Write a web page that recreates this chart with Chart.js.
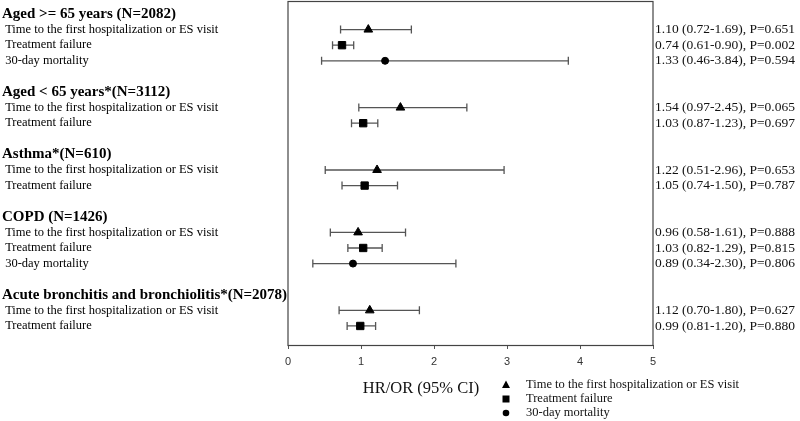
<!DOCTYPE html>
<html lang="en">
<head>
    <meta charset="UTF-8">
    <title>HR/OR forest plot</title>
    <script src="https://cdn.jsdelivr.net/npm/chart.js"></script>
    <style>
        html, body { margin: 0; padding: 0; background: #fff; }
        canvas { display: block; }
    </style>
</head>
<body>
    <canvas id="forestChart" width="800" height="421"></canvas>

    <script>
        // Rows of the plot (top to bottom), blank strings are spacer rows
        const rowLabels = [
            'Aged >= 65 years (N=2082)',
            'Time to the first hospitalization or ES visit',
            'Treatment failure',
            '30-day mortality',
            '',
            'Aged < 65 years*(N=3112)',
            'Time to the first hospitalization or ES visit',
            'Treatment failure',
            '',
            'Asthma*(N=610)',
            'Time to the first hospitalization or ES visit',
            'Treatment failure',
            '',
            'COPD (N=1426)',
            'Time to the first hospitalization or ES visit',
            'Treatment failure',
            '30-day mortality',
            '',
            'Acute bronchitis and bronchiolitis*(N=2078)',
            'Time to the first hospitalization or ES visit',
            'Treatment failure'
        ];
        const headerRows = [0, 5, 9, 13, 18];

        // Time to the first hospitalization or ES visit
        const timeRows = [1, 6, 10, 14, 19];
        const timeEst = [1.10, 1.54, 1.22, 0.96, 1.12];
        const timeLo = [0.72, 0.97, 0.51, 0.58, 0.70];
        const timeHi = [1.69, 2.45, 2.96, 1.61, 1.80];
        const timeP = ['0.651', '0.065', '0.653', '0.888', '0.627'];

        // Treatment failure
        const failRows = [2, 7, 11, 15, 20];
        const failEst = [0.74, 1.03, 1.05, 1.03, 0.99];
        const failLo = [0.61, 0.87, 0.74, 0.82, 0.81];
        const failHi = [0.90, 1.23, 1.50, 1.29, 1.20];
        const failP = ['0.002', '0.697', '0.787', '0.815', '0.880'];

        // 30-day mortality
        const mortRows = [3, 16];
        const mortEst = [1.33, 0.89];
        const mortLo = [0.46, 0.34];
        const mortHi = [3.84, 2.30];
        const mortP = ['0.594', '0.806'];

        const xTicks = [0, 1, 2, 3, 4, 5];
        const seriesNames = ['Time to the first hospitalization or ES visit', 'Treatment failure', '30-day mortality'];
        const axisTitle = 'HR/OR (95% CI)';

        const serif = "'Liberation Serif', 'Times New Roman', serif";

        function buildPoints(rows, est, lo, hi) {
            return rows.map((r, i) => ({ x: est[i], y: r, lo: lo[i], hi: hi[i] }));
        }

        // right hand text column
        const rightLabels = rowLabels.map(() => '');
        function fillRight(rows, est, lo, hi, p) {
            rows.forEach((r, i) => {
                rightLabels[r] = est[i].toFixed(2) + ' (' + lo[i].toFixed(2) + '-' + hi[i].toFixed(2) + '), P=' + p[i];
            });
        }
        fillRight(timeRows, timeEst, timeLo, timeHi, timeP);
        fillRight(failRows, failEst, failLo, failHi, failP);
        fillRight(mortRows, mortEst, mortLo, mortHi, mortP);

        const rowTicks = axis => { axis.ticks = rowLabels.map((_, i) => ({ value: i })); };
        // row labels are not at the axis ends, so drop the edge padding chart.js reserves for them
        const rowAxisFit = w => scale => {
            scale.width = w;
            scale.paddingTop = 0;
            scale.paddingBottom = 0;
        };

        // horizontal CI whiskers with end caps
        const errorBars = {
            id: 'errorBars',
            beforeDatasetsDraw(chart) {
                const ctx = chart.ctx;
                const xs = chart.scales.x, ys = chart.scales.y;
                ctx.save();
                ctx.strokeStyle = '#555';
                ctx.lineWidth = 1.3;
                chart.data.datasets.forEach(ds => {
                    ds.data.forEach(pt => {
                        const y = ys.getPixelForValue(pt.y);
                        const x1 = xs.getPixelForValue(pt.lo);
                        const x2 = xs.getPixelForValue(pt.hi);
                        ctx.beginPath();
                        ctx.moveTo(x1, y); ctx.lineTo(x2, y);
                        ctx.moveTo(x1, y - 4); ctx.lineTo(x1, y + 4);
                        ctx.moveTo(x2, y - 4); ctx.lineTo(x2, y + 4);
                        ctx.stroke();
                    });
                });
                ctx.restore();
            }
        };

        // plot frame, axis title and marker key
        const decorations = {
            id: 'decorations',
            afterDraw(chart) {
                const ctx = chart.ctx;
                const a = chart.chartArea;
                ctx.save();
                ctx.strokeStyle = '#444';
                ctx.lineWidth = 1.2;
                ctx.strokeRect(a.left, a.top + 0.5, a.right - a.left, a.bottom - a.top);

                ctx.fillStyle = '#111';
                ctx.font = '16.5px ' + serif;
                ctx.textAlign = 'center';
                ctx.textBaseline = 'middle';
                ctx.fillText(axisTitle, 421, a.bottom + 44);

                ctx.font = '12.5px ' + serif;
                ctx.textAlign = 'left';
                chart.data.datasets.forEach((ds, i) => {
                    const y = a.bottom + 40 + i * 14;
                    const x = 506;
                    ctx.fillStyle = '#000';
                    ctx.beginPath();
                    if (ds.pointStyle === 'triangle') {
                        ctx.moveTo(x, y - 4.5); ctx.lineTo(x + 4, y + 3); ctx.lineTo(x - 4, y + 3); ctx.closePath();
                    } else if (ds.pointStyle === 'rect') {
                        ctx.rect(x - 3.5, y - 3.5, 7, 7);
                    } else {
                        ctx.arc(x, y, 3.3, 0, Math.PI * 2);
                    }
                    ctx.fill();
                    ctx.fillStyle = '#111';
                    ctx.fillText(ds.label, 526, y);
                });
                ctx.restore();
            }
        };

        const ctx = document.getElementById('forestChart').getContext('2d');
        new Chart(ctx, {
            type: 'scatter',
            data: {
                datasets: [
                    {
                        label: seriesNames[0],
                        data: buildPoints(timeRows, timeEst, timeLo, timeHi),
                        pointStyle: 'triangle',
                        pointRadius: 5,
                        backgroundColor: '#000',
                        borderColor: '#000'
                    },
                    {
                        label: seriesNames[1],
                        data: buildPoints(failRows, failEst, failLo, failHi),
                        pointStyle: 'rect',
                        pointRadius: 5.2,
                        backgroundColor: '#000',
                        borderColor: '#000'
                    },
                    {
                        label: seriesNames[2],
                        data: buildPoints(mortRows, mortEst, mortLo, mortHi),
                        pointStyle: 'circle',
                        pointRadius: 3.5,
                        backgroundColor: '#000',
                        borderColor: '#000'
                    }
                ]
            },
            options: {
                responsive: false,
                animation: false,
                events: [],
                layout: { autoPadding: false, padding: { left: 2, top: 1, right: 0, bottom: 0 } },
                plugins: {
                    legend: { display: false },
                    tooltip: { enabled: false }
                },
                scales: {
                    x: {
                        type: 'linear',
                        min: 0,
                        max: 5,
                        afterBuildTicks: axis => { axis.ticks = xTicks.map(v => ({ value: v })); },
                        afterFit: scale => { scale.height = 76; },
                        ticks: {
                            font: { family: "'Liberation Sans', Arial, sans-serif", size: 11 },
                            color: '#333',
                            padding: 6
                        },
                        grid: { display: true, drawOnChartArea: false, drawTicks: true, tickLength: 4, color: '#555' },
                        border: { display: true, color: '#444' }
                    },
                    y: {
                        type: 'linear',
                        position: 'left',
                        reverse: true,
                        min: -0.833,
                        max: 21.22,
                        afterBuildTicks: rowTicks,
                        afterFit: rowAxisFit(286),
                        ticks: {
                            autoSkip: false,
                            crossAlign: 'far',
                            padding: 2,
                            color: '#000',
                            callback: v => headerRows.includes(v) ? rowLabels[v] : ' ' + (rowLabels[v] || ''),
                            font: c => headerRows.includes(c.tick && c.tick.value)
                                ? { family: serif, size: 15, weight: 'bold' }
                                : { family: serif, size: 12.5 }
                        },
                        grid: { display: false, drawTicks: false },
                        border: { display: false }
                    },
                    y1: {
                        type: 'linear',
                        position: 'right',
                        reverse: true,
                        min: -0.833,
                        max: 21.22,
                        afterBuildTicks: rowTicks,
                        afterFit: rowAxisFit(147),
                        ticks: {
                            autoSkip: false,
                            padding: 2,
                            color: '#111',
                            callback: v => rightLabels[v] || '',
                            font: { family: serif, size: 13.5 }
                        },
                        grid: { display: false, drawTicks: false },
                        border: { display: false }
                    }
                }
            },
            plugins: [errorBars, decorations]
        });
    </script>
</body>
</html>
